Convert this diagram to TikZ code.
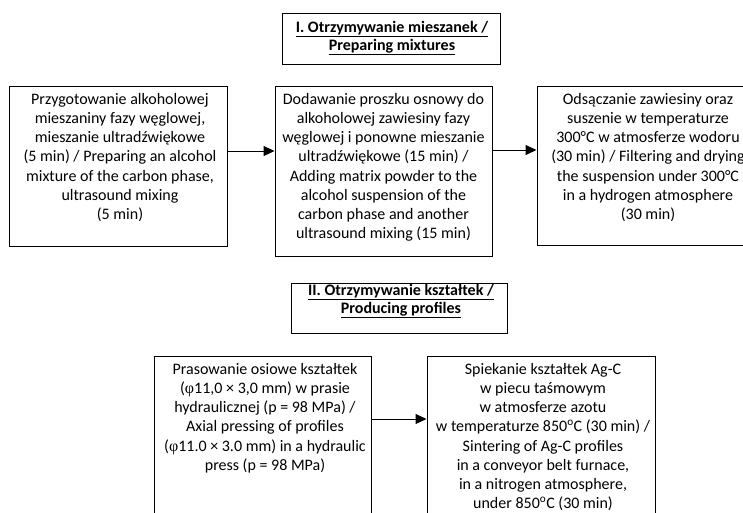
\documentclass[tikz,border=0pt]{standalone}
\usepackage{fontspec}
\setmainfont{Carlito}
\newfontfamily\phifont{Liberation Serif}
\usetikzlibrary{arrows.meta}
\begin{document}
\begin{tikzpicture}[x=1pt,y=-1pt,
  box/.style={draw,line width=1pt,inner sep=0pt},
  txt/.style={align=center,inner sep=0pt,anchor=north,font=\fontsize{16}{19.2}\selectfont},
  ttl/.style={align=center,inner sep=0pt,anchor=north,font=\fontsize{16}{18}\selectfont\bfseries},
  arr/.style={line width=1pt,-{Triangle[length=11pt,width=10pt]}}]
\useasboundingbox (0,0) rectangle (743,512);
\clip (0,0) rectangle (743,512);
% titles
\node[box,minimum width=218pt,minimum height=51pt] (h1) at (391,38.5) {};
\node[ttl] (h1t) at (392,18) {\rule{0pt}{14pt}\underline{I. Otrzymywanie mieszanek /}\\\underline{Preparing mixtures}};
\node[box,minimum width=216pt,minimum height=50pt] (h2) at (399,308) {};
\node[ttl] (h2t) at (401,281) {\rule{0pt}{14pt}\underline{II. Otrzymywanie kształtek /}\\\underline{Producing profiles}};
% row 1
\node[box,minimum width=218pt,minimum height=160pt] (b1) at (118,166) {};
\node[box,minimum width=217pt,minimum height=170pt] (b2) at (383.5,171) {};
\node[box,minimum width=222pt,minimum height=159pt] (b3) at (648,165.5) {};
\node[txt] (t1) at (120,90) {\rule{0pt}{14pt}Przygotowanie alkoholowej\\mieszaniny fazy węglowej,\\mieszanie ultradźwiękowe\\(5 min) / Preparing an alcohol\\mixture of the carbon phase,\\ultrasound mixing\\(5 min)};
\node[txt] (t2) at (383.5,90) {\rule{0pt}{14pt}Dodawanie proszku osnowy do\\alkoholowej zawiesiny fazy\\węglowej i ponowne mieszanie\\ultradźwiękowe (15 min) /\\Adding matrix powder to the\\alcohol suspension of the\\carbon phase and another\\ultrasound mixing (15 min)};
\node[txt] (t3) at (648,90) {\rule{0pt}{14pt}Odsączanie zawiesiny oraz\\suszenie w temperaturze\\300°C w atmosferze wodoru\\(30 min) / Filtering and drying\\the suspension under 300°C\\in a hydrogen atmosphere\\(30 min)};
\draw[arr] (b1.east |- 0,151) -- (b2.west |- 0,151);
\draw[arr] (b2.east |- 0,150) -- (b3.west |- 0,150);
% row 2
\node[box,minimum width=217pt,minimum height=184pt] (b4) at (262.5,448) {};
\node[box,minimum width=228pt,minimum height=184pt] (b5) at (541,448) {};
\node[txt] (t4) at (265,360) {\rule{0pt}{14pt}Prasowanie osiowe kształtek\\({\phifont φ}11,0 × 3,0 mm) w prasie\\hydraulicznej (p = 98 MPa) /\\Axial pressing of profiles\\({\phifont φ}11.0 × 3.0 mm) in a hydraulic\\press (p = 98 MPa)};
\node[txt] (t5) at (543,360) {\rule{0pt}{14pt}Spiekanie kształtek Ag-C\\w piecu taśmowym\\w atmosferze azotu\\w temperaturze 850\textsuperscript{o}C (30 min) /\\Sintering of Ag-C profiles\\in a conveyor belt furnace,\\in a nitrogen atmosphere,\\under 850\textsuperscript{o}C (30 min)};
\draw[arr] (b4.east |- 0,419) -- (b5.west |- 0,419);
\end{tikzpicture}
\end{document}
